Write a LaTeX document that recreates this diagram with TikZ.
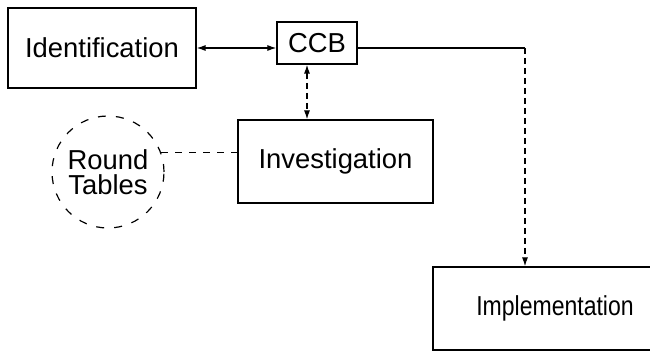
\documentclass[tikz,border=0pt]{standalone}
\usepackage{fontspec}
\setmainfont{Liberation Sans}
\newfontfamily\narrowsans[FakeStretch=0.84]{Liberation Sans}
\usepackage{tikz}
\usetikzlibrary{
  arrows.meta,
  positioning,
  calc
}
\tikzset{
  stagebox/.style={
    draw,
    line width=0.6pt,
    align=center,
    inner sep=0pt,
    font=\fontsize{13.7}{10.5}\selectfont
  },
  roundnode/.style={
    circle,
    draw,
    dashed,
    dash pattern=on 4pt off 5pt,
    line width=0.6pt,
    minimum size=56pt,
    inner sep=0pt,
    align=center,
    font=\fontsize{13.7}{12.6}\selectfont
  },
  flowarrow/.style={-{Latex[length=4.5pt,width=3pt]},line width=0.6pt},
  dasharrow/.style={flowarrow,dash pattern=on 3pt off 2pt},
  dashlink/.style={line width=0.6pt,dash pattern=on 3.5pt off 3.5pt}
}
\begin{document}
\begin{tikzpicture}[x=0.5pt,y=-0.5pt]
  \useasboundingbox (0,0) rectangle (650,352);
  \clip (0,0) rectangle (650,352);
  \node[stagebox,minimum width=94pt,minimum height=40pt] (ident) at (102,48) {Identification};
  \node[stagebox,minimum width=40pt,minimum height=21pt] (ccb) at (317,43) {CCB};
  \node[stagebox,minimum width=97.5pt,minimum height=41.5pt] (inv) at (335.5,161.5) {Investigation};
  \node[roundnode] (rt) at (108,172) {Round\\Tables};
  \node[stagebox,minimum width=122pt,minimum height=41.5pt] (impl) at (555,308.5) {\narrowsans Implementation};
  \coordinate (turn) at ($(ident.east -| impl.north)+(-15pt,0)$);
  % connectors
  \draw[flowarrow,{Latex[length=4.5pt,width=3pt]}-{Latex[length=4.5pt,width=3pt]}] (ident.east) -- (ident.east -| ccb.west);
  \draw[dasharrow,{Latex[length=4.5pt,width=3pt]}-{Latex[length=4.5pt,width=3pt]}] ([xshift=-5pt]ccb.south) -- ([xshift=-5pt]ccb.south |- inv.north);
  \draw[dashlink] (rt.20) -- (rt.20 -| inv.west);
  \draw[line width=0.6pt] (ident.east -| ccb.east) -- (turn);
  \draw[dasharrow] (turn) -- (turn |- impl.north);
\end{tikzpicture}
\end{document}
